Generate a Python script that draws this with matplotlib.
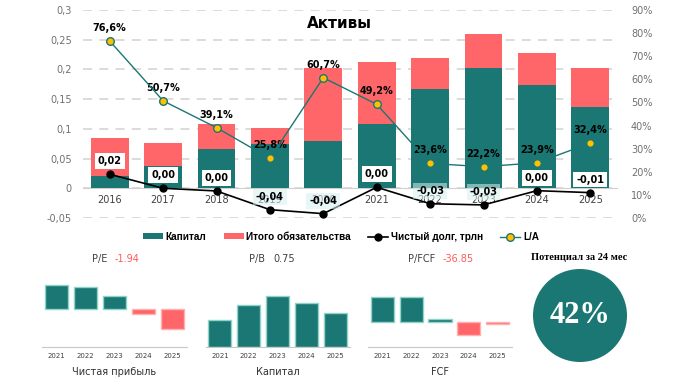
import matplotlib.pyplot as plt
from matplotlib.patches import Patch, Ellipse
from matplotlib.lines import Line2D
import numpy as np

# main chart data
years = ['2016', '2017', '2018', '2019', '2020', '2021', '2022', '2023', '2024', '2025']
capital = [0.020, 0.038, 0.066, 0.075, 0.080, 0.108, 0.167, 0.203, 0.174, 0.137]
liabilities = [0.064, 0.039, 0.042, 0.026, 0.123, 0.104, 0.052, 0.057, 0.054, 0.066]
net_debt = [0.0236, 0.0, -0.0045, -0.036, -0.0427, 0.0017, -0.026, -0.028, -0.004, -0.0073]
net_debt_lbl = ['0,02', '0,00', '0,00', '-0,04', '-0,04', '0,00', '-0,03', '-0,03', '0,00', '-0,01']
la_ratio = [0.766, 0.507, 0.391, 0.258, 0.607, 0.492, 0.236, 0.222, 0.239, 0.324]
la_lbl = ['76,6%', '50,7%', '39,1%', '25,8%', '60,7%', '49,2%', '23,6%', '22,2%', '23,9%', '32,4%']

# small charts
small_years = ['2021', '2022', '2023', '2024', '2025']
net_profit = [2.4, 2.17, 1.3, -0.5, -2.0]
small_capital = capital[5:]
fcf = [2.44, 2.5, 0.27, -1.36, -0.2]

TEAL = '#1b7773'
RED = '#ff6669'
GOLD = '#ffc000'
W, H = 684, 382

def box(x0, y0, x1, y1):
    # pixel box -> figure coords
    return [x0 / W, 1 - y1 / H, (x1 - x0) / W, (y1 - y0) / H]

fig = plt.figure(figsize=(6.84, 3.82), dpi=100)

ax = fig.add_axes(box(83, 10, 617, 218))
x = np.arange(len(years))
cap = np.array(capital)
lia = np.array(liabilities)
ax.bar(x, cap, width=0.71, color=TEAL, zorder=2)
ax.bar(x, lia, bottom=cap, width=0.71, color=RED, zorder=2)
ax.plot(x, net_debt, color='black', lw=1.2, marker='o', ms=5, zorder=4)
for i, (v, t) in enumerate(zip(net_debt, net_debt_lbl)):
    fc = '#d6efef' if v < -0.01 else 'white'
    al = 0.55 if v < -0.01 else 1.0
    ax.annotate(t, (i, v), xytext=(0, 9.4), textcoords='offset points',
                ha='center', va='center', fontsize=7, fontweight='bold', zorder=5,
                bbox=dict(boxstyle='square,pad=0.3', fc=fc, ec='none', alpha=al))

ax.set_xlim(-0.5, 9.5)
ax.set_ylim(-0.05, 0.3)
ax.set_yticks([-0.05, 0, 0.05, 0.1, 0.15, 0.2, 0.25, 0.3])
ax.set_yticklabels(['-0,05', '0', '0,05', '0,1', '0,15', '0,2', '0,25', '0,3'])
ax.set_xticks(x)
ax.set_xticklabels(years)
ax.spines['bottom'].set_position(('data', 0))
ax.spines['bottom'].set_color('#d0d0d0')
ax.spines['bottom'].set_zorder(1)
for s in ['top', 'left', 'right']:
    ax.spines[s].set_visible(False)
ax.tick_params(axis='x', length=0, pad=5, labelsize=7, labelcolor='#404040')
ax.tick_params(axis='y', length=0, pad=8, labelsize=7, labelcolor='#707070')
ax.set_axisbelow(True)
ax.grid(axis='y', color='#d9d9d9', lw=1.3, ls=(0, (5, 4)))

ax2 = ax.twinx()
ax2.set_ylim(0, 0.9)
ax2.plot(x, la_ratio, color=TEAL, lw=1.0, marker='o', ms=5.5, mfc=GOLD, mec=TEAL, mew=1, zorder=5)
for i, (v, t) in enumerate(zip(la_ratio, la_lbl)):
    ax2.annotate(t, (i, v), xytext=(0, 9.4), textcoords='offset points',
                 ha='center', va='center', fontsize=7, fontweight='bold')
ax2.set_yticks(np.arange(0, 0.91, 0.1))
ax2.set_yticklabels([f'{int(round(v * 100))}%' for v in np.arange(0, 0.91, 0.1)])
ax2.tick_params(axis='y', length=0, pad=10, labelsize=7, labelcolor='#707070')
for s in ax2.spines.values():
    s.set_visible(False)

fig.text(339 / W, 1 - 23 / H, 'Активы', ha='center', va='center', fontsize=11, fontweight='bold')

handles = [Patch(fc=TEAL), Patch(fc=RED),
           Line2D([], [], color='black', marker='o', ms=5, lw=1.2),
           Line2D([], [], color=TEAL, marker='o', ms=5.5, mfc=GOLD, mec=TEAL, lw=1.0)]
fig.legend(handles, ['Капитал', 'Итого обязательства', 'Чистый долг, трлн', 'L/A'],
           loc='center', bbox_to_anchor=(341 / W, 1 - 237 / H), ncol=4, frameon=False,
           prop=dict(family='Liberation Sans', size=7.2, weight='bold'), handlelength=2.0,
           handleheight=0.55, columnspacing=1.7, handletextpad=0.3)


def small_chart(rect, vals, ylim, label, metric, metric_val, val_color, title_x):
    a = fig.add_axes(rect)
    cols = [TEAL if v >= 0 else RED for v in vals]
    edges = ['#8fd3cb' if v >= 0 else '#ffb0b0' for v in vals]
    a.bar(range(len(vals)), vals, width=0.8, color=cols, edgecolor=edges, lw=1)
    a.set_xlim(-0.5, 4.5)
    a.set_ylim(*ylim)
    a.set_xticks(range(len(vals)))
    a.set_xticklabels(small_years)
    a.tick_params(axis='x', length=0, pad=4, labelsize=5, labelcolor='#404040')
    a.set_yticks([])
    for s in ['top', 'left', 'right']:
        a.spines[s].set_visible(False)
    a.spines['bottom'].set_color('#c8c8c8')
    a.spines['bottom'].set_position(('data', ylim[0]))
    cx = rect[0] + rect[2] / 2
    fig.text(cx, 1 - 372 / H, label, ha='center', va='center', fontsize=7, color='#303030')
    fig.text(title_x / W, 1 - 259 / H, metric, ha='right', va='center', fontsize=7, color='#404040')
    fig.text(title_x / W + 8 / W, 1 - 259 / H, metric_val, ha='left', va='center', fontsize=7, color=val_color)


small_chart(box(42, 270, 187, 347), net_profit, (-3.8, 3.9), 'Чистая прибыль', 'P/E', '-1.94', '#ff5a5a', 107)
small_chart(box(205.5, 270, 349.5, 347), small_capital, (0, 0.307), 'Капитал', 'P/B', '0.75', '#404040', 265)
small_chart(box(368, 270, 512, 347), fcf, (-2.53, 5.17), 'FCF', 'P/FCF', '-36.85', '#ff5a5a', 435)

ac = fig.add_axes(box(533, 269, 627, 362))
ac.add_patch(Ellipse((0.5, 0.5), 1, 1, fc=TEAL, ec='none'))
ac.set_xlim(0, 1)
ac.set_ylim(0, 1)
ac.axis('off')
ac.text(0.5, 0.5, '42%', ha='center', va='center', color='white', fontsize=22,
        fontweight='bold', family='Liberation Serif')
fig.text(579 / W, 1 - 257 / H, 'Потенциал за 24 мес', ha='center', va='center', fontsize=7.5,
         fontweight='bold', family='Liberation Serif')

fig.savefig('out.png', dpi=100)
